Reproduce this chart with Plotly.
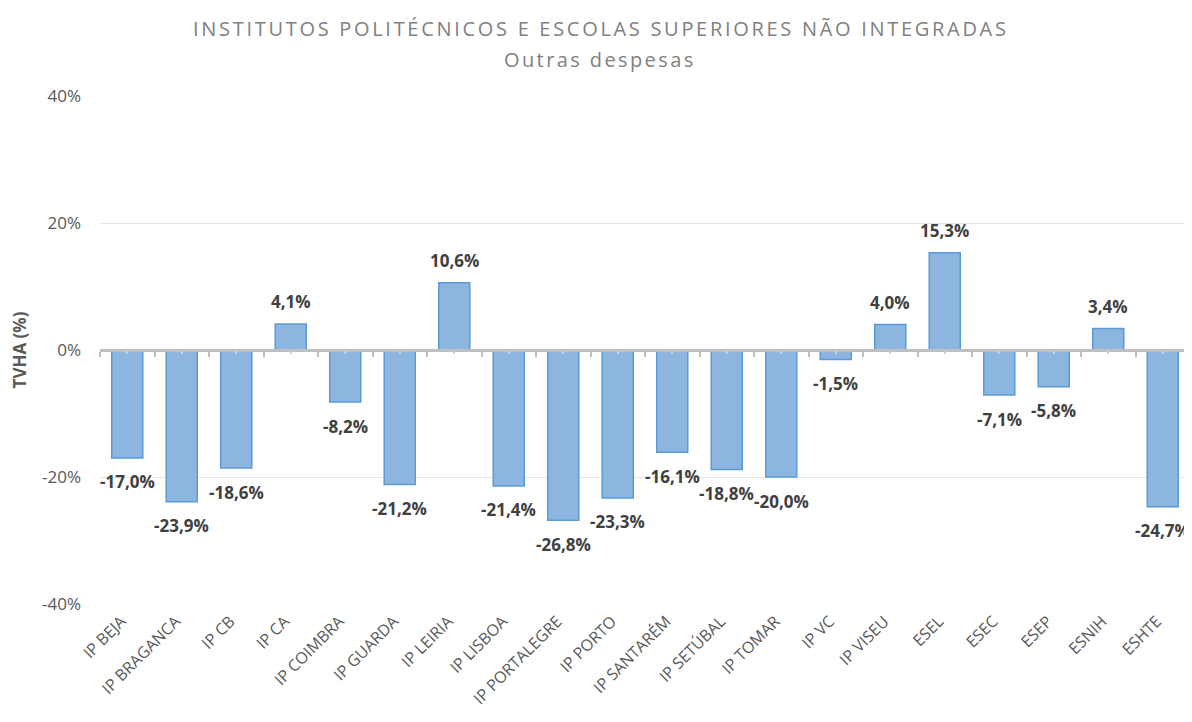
import plotly.graph_objects as go

categories = ["IP BEJA", "IP BRAGANCA", "IP CB", "IP CA", "IP COIMBRA", "IP GUARDA",
              "IP LEIRIA", "IP LISBOA", "IP PORTALEGRE", "IP PORTO", "IP SANTARÉM",
              "IP SETÚBAL", "IP TOMAR", "IP VC", "IP VISEU", "ESEL", "ESEC", "ESEP",
              "ESNIH", "ESHTE"]
values = [-17.0, -23.9, -18.6, 4.1, -8.2, -21.2, 10.6, -21.4, -26.8, -23.3, -16.1,
          -18.8, -20.0, -1.5, 4.0, 15.3, -7.1, -5.8, 3.4, -24.7]
y_ticks = [-40, -20, 0, 20, 40]
y_tick_labels = ["-40%", "-20%", "0%", "20%", "40%"]
title_line1 = "INSTITUTOS POLITÉCNICOS E ESCOLAS SUPERIORES NÃO INTEGRADAS"
title_line2 = "Outras despesas"

labels = [f"{v:.1f}%".replace(".", ",") for v in values]

FONT = "Open Sans"
# page body has an 8px margin: figure drawn 8px right/down
W, H = 1184, 714
L, R, T, B = 92, 2, 88, 118
pw, ph = W - L - R, H - T - B

fig = go.Figure()
fig.add_trace(go.Bar(
    x=categories, y=values, width=0.57,
    marker=dict(color="#8cb6e0", line=dict(color="#5b9bd5", width=1.5)),
    hoverinfo="x+y",
))
zeros = [0] * len(categories)
fig.add_trace(go.Bar(x=categories, y=zeros, xaxis="x2",
                     marker=dict(color="rgba(0,0,0,0)"), hoverinfo="skip"))
fig.add_trace(go.Bar(x=categories, y=zeros, xaxis="x3",
                     marker=dict(color="rgba(0,0,0,0)"), hoverinfo="skip"))

for c, v, t in zip(categories, values, labels):
    fig.add_annotation(x=c, y=v, text=f"<b>{t}</b>", showarrow=False,
                       yshift=22 if v >= 0 else -24, yanchor="middle",
                       font=dict(family=FONT, size=17, color="#404040"))

fig.add_annotation(xref="paper", yref="paper", x=(593 - L) / pw, y=(H - B - 20) / ph,
                   text=f'<span style="letter-spacing:2.7px">{title_line1}</span>',
                   showarrow=False, yanchor="middle",
                   font=dict(family=FONT, size=20, color="#808080"))
fig.add_annotation(xref="paper", yref="paper", x=(592 - L) / pw, y=(H - B - 52) / ph,
                   text=f'<span style="letter-spacing:2.4px">{title_line2}</span>',
                   showarrow=False, yanchor="middle",
                   font=dict(family=FONT, size=20, color="#808080"))

fig.update_layout(
    width=W, height=H,
    margin=dict(l=L, r=R, t=T, b=B, autoexpand=False),
    paper_bgcolor="white", plot_bgcolor="white",
    showlegend=False, bargap=0.43, barmode="overlay",
    font=dict(family=FONT, color="#595959"),
    xaxis=dict(type="category", tickangle=-45, showgrid=False, zeroline=False,
               showline=False, ticks="", automargin=False,
               ticklabelshift=-6, ticklabelstandoff=4,
               tickfont=dict(family=FONT, size=16, color="#595959"),
               range=[-0.5, len(categories) - 0.5]),
    xaxis2=dict(type="category", overlaying="x", matches="x", anchor="free",
                position=0.5, side="bottom", showline=True, linecolor="#bfbfbf",
                linewidth=2.5, ticks="outside", ticklen=5, tickwidth=1.5,
                tickcolor="#bfbfbf", tickson="boundaries", showticklabels=False,
                showgrid=False, zeroline=False, automargin=False),
    xaxis3=dict(type="category", overlaying="x", matches="x", anchor="free",
                position=0.5, side="bottom", showline=False,
                ticks="outside", ticklen=3, tickwidth=1.5,
                tickcolor="#d0d0d0", showticklabels=False,
                showgrid=False, zeroline=False, automargin=False),
    yaxis=dict(range=[-40, 40], tickvals=y_ticks, ticktext=y_tick_labels,
               showgrid=True, gridcolor="#e6e6e6", gridwidth=1, zeroline=False,
               showline=False, ticks="", ticklabelstandoff=18, automargin=False,
               tickfont=dict(family=FONT, size=17, color="#595959"),
               title=dict(text="<b>TVHA (%)</b>", standoff=12,
                          font=dict(family=FONT, size=17, color="#595959"))),
)

fig.write_html("out.html")
